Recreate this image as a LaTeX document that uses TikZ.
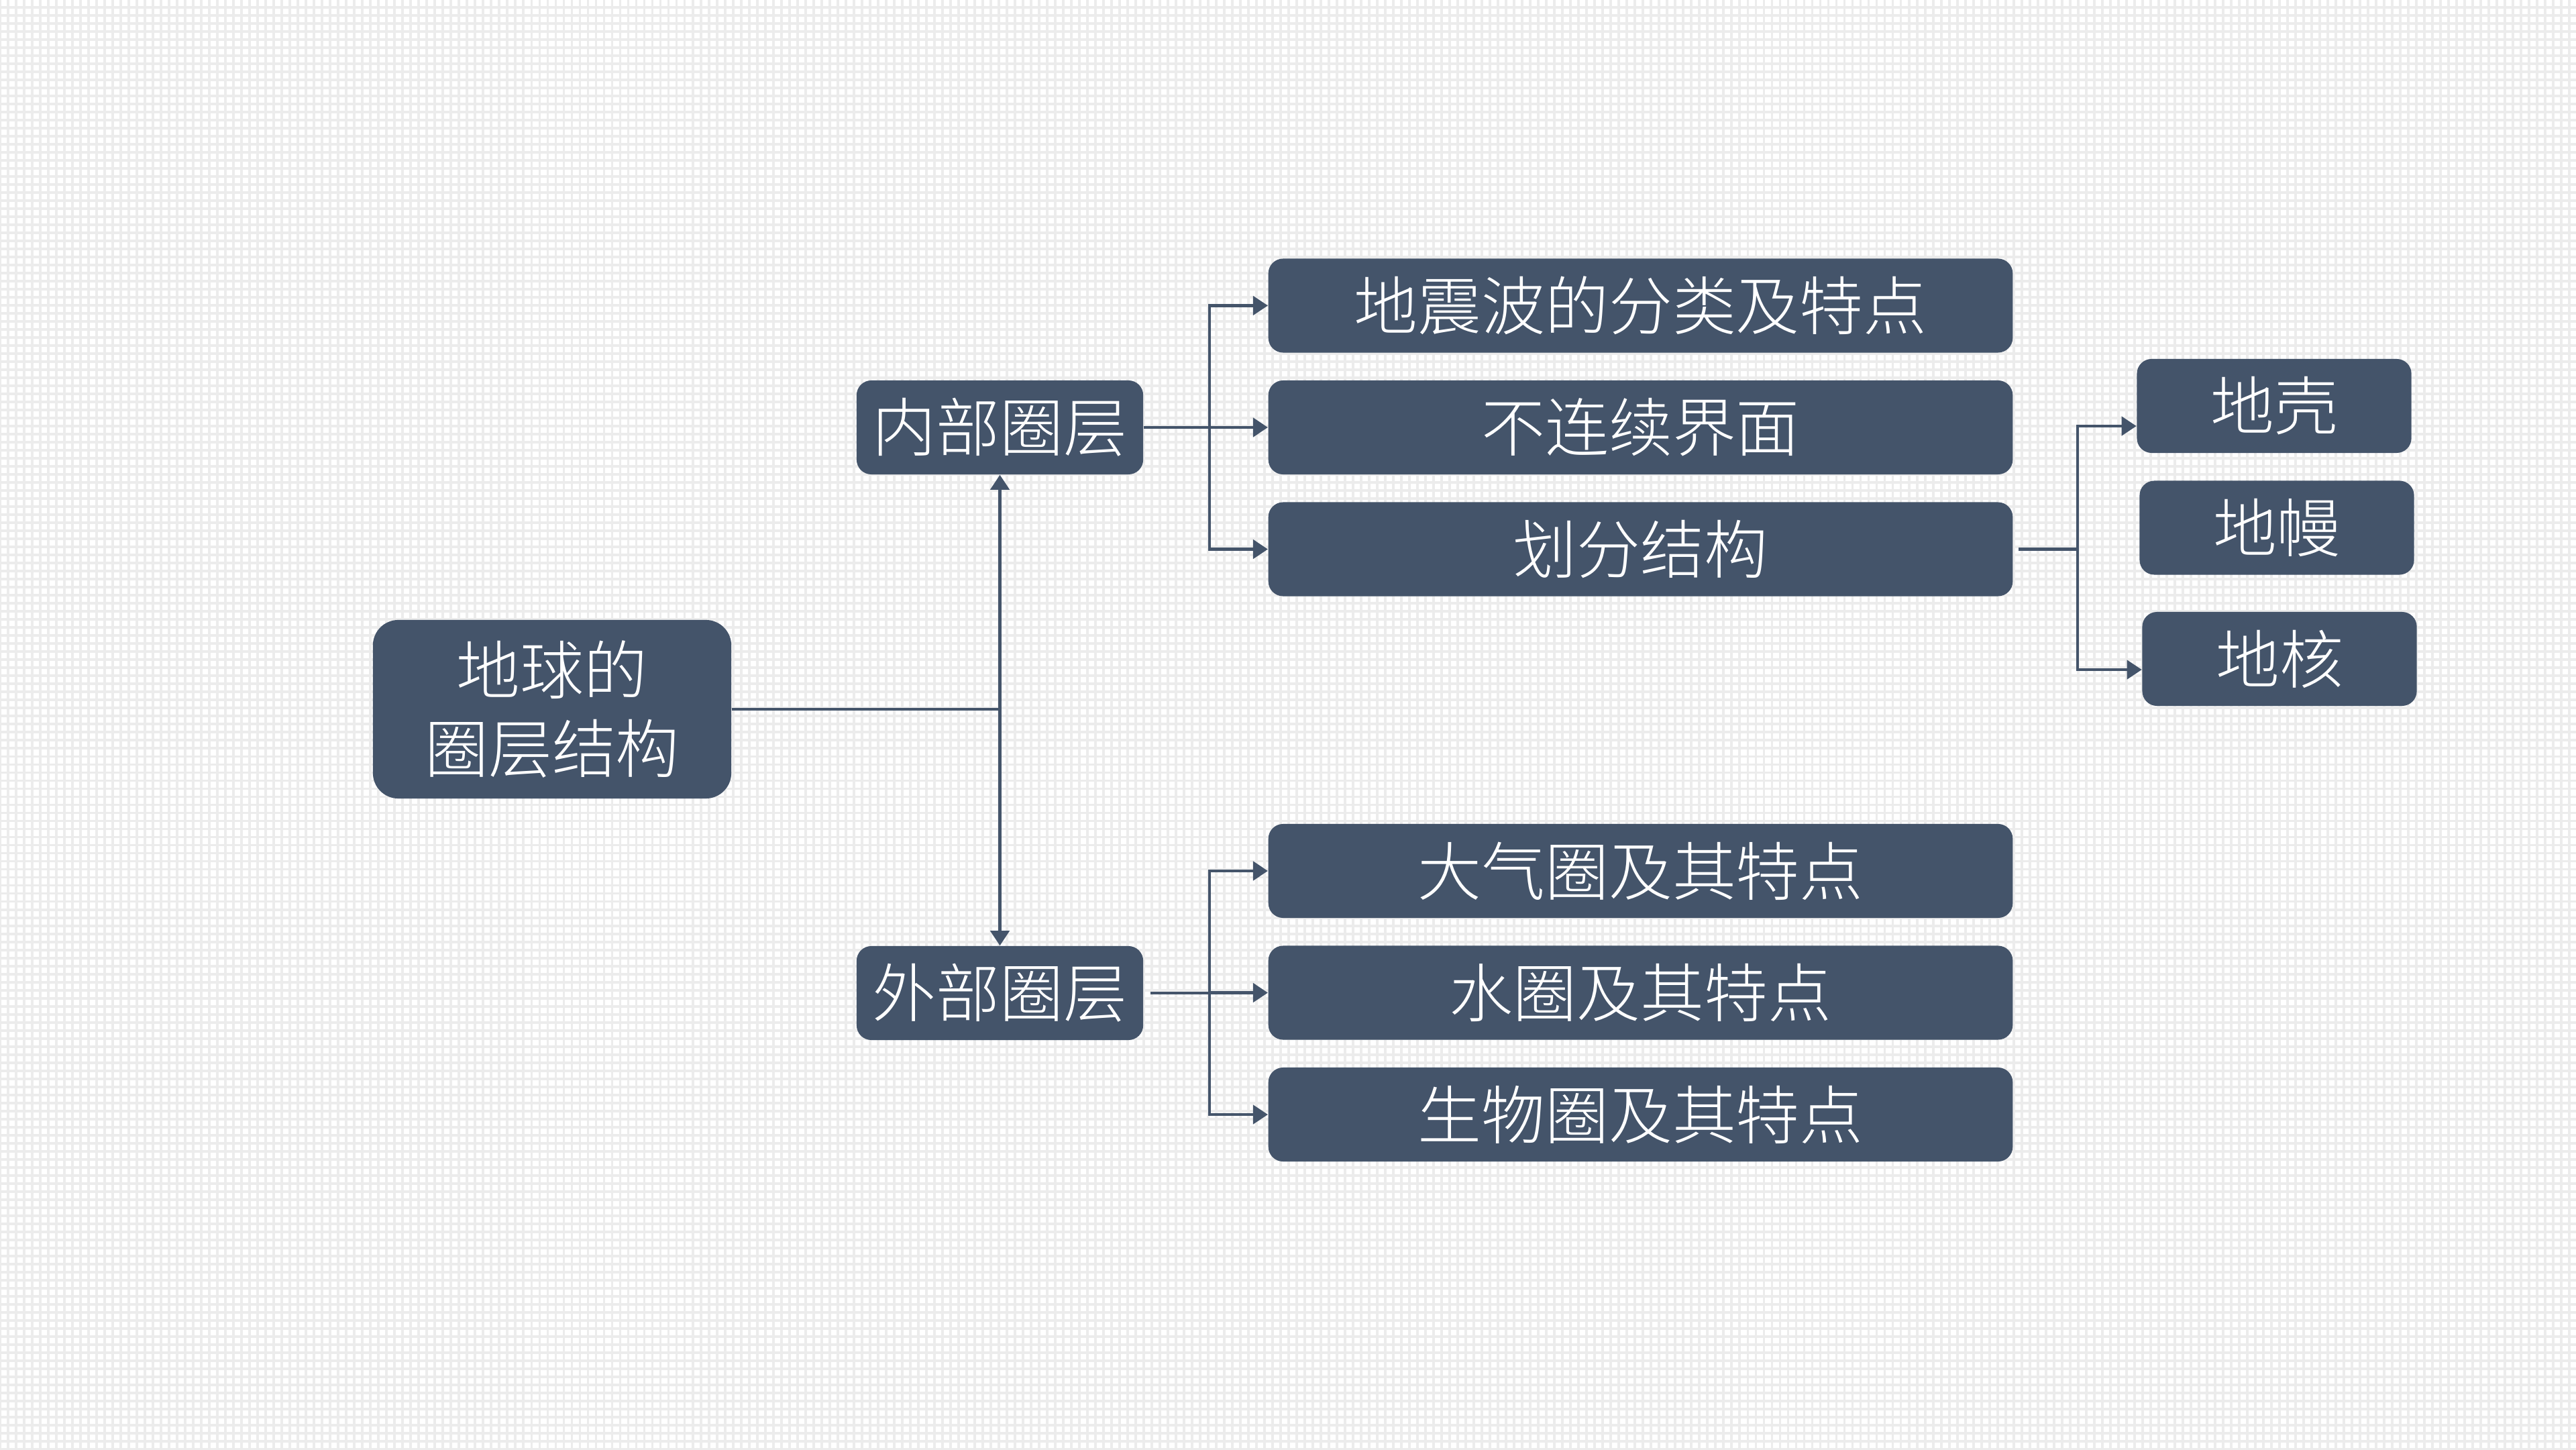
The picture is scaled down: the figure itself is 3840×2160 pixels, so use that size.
\documentclass[tikz,border=0pt]{standalone}
\usepackage{fontspec}
\setmainfont{Noto Sans CJK SC}[UprightFont=* Light]
\usepackage{xcolor}
\usepackage{tikz}
\usetikzlibrary{arrows.meta,positioning,calc}
\definecolor{slate}{HTML}{44546A}
\definecolor{gridgray}{HTML}{ECECEC}
\newcommand{\boxfont}{\fontsize{27}{33.4}\selectfont}
\tikzset{
  rootbox/.style={
    rectangle, rounded corners=0.38cm, fill=slate, text=white,
    minimum width=5.34cm, minimum height=2.66cm,
    font=\boxfont, align=center, inner sep=0pt
  },
  layerbox/.style={
    rectangle, rounded corners=0.22cm, fill=slate, text=white,
    minimum width=#1, minimum height=1.4cm,
    font=\boxfont, align=center, inner sep=0pt
  },
  layerbox/.default=4.27cm,
  linkarrow/.style={
    -{Triangle[length=6.3pt,width=8pt]}, line width=1.3pt, draw=slate
  },
}

\begin{document}
\begin{tikzpicture}[x=0.01cm, y=0.01cm]
    \useasboundingbox (0,0) rectangle (3840,2160);
    % grid paper
    \fill[white] (0,0) rectangle (3840,2160);
    \draw[gridgray, line width=1.1pt, step=0.12cm] (0,0) grid (3840,2160);

    \node[rootbox] (root) at (823,1103) {地球的\\圈层结构};
    \node[layerbox] (inner) at (1490.5,1523) {内部圈层};
    \node[layerbox] (outer) at (1490.5,680) {外部圈层};

    \node[layerbox=11.09cm] (quake) at (2445.5,1704.5) {地震波的分类及特点};
    \node[layerbox=11.09cm, below=0.4cm of quake] (discont) {不连续界面};
    \node[layerbox=11.09cm, below=0.4cm of discont] (divide) {划分结构};
    \node[layerbox=11.09cm] (air) at (2445.5,862) {大气圈及其特点};
    \node[layerbox=11.09cm, below=0.4cm of air] (water) {水圈及其特点};
    \node[layerbox=11.09cm, below=0.4cm of water] (bio) {生物圈及其特点};

    \node[layerbox=4.09cm] (crust) at (3390,1555) {地壳};
    \node[layerbox=4.09cm, below=0.4cm of crust, xshift=0.04cm] (mantle) {地幔};
    \node[layerbox=4.09cm, below=0.54cm of mantle, xshift=0.04cm] (core) {地核};

    \draw[linkarrow] (root.east) -| (inner.south);
    \draw[linkarrow] (root.east) -| (outer.north);

    \coordinate (innerfork) at ([xshift=0.98cm]inner.east);
    \foreach \n in {quake,discont,divide}
        \draw[linkarrow] (inner.east) -- (innerfork) |- (\n.west);
    \coordinate (outerfork) at ([xshift=0.98cm]outer.east);
    \foreach \n in {air,water,bio}
        \draw[linkarrow, shorten <=0.1cm] (outer.east) -- (outerfork) |- (\n.west);

    \coordinate (divfork) at ([xshift=0.96cm]divide.east);
    \draw[linkarrow, shorten <=0.08cm] (divide.east) -- (divfork) |- ([yshift=-0.3cm]crust.west);
    \draw[linkarrow, shorten <=0.08cm] (divide.east) -- (divfork) |- ([yshift=-0.16cm]core.west);
\end{tikzpicture}
\end{document}
